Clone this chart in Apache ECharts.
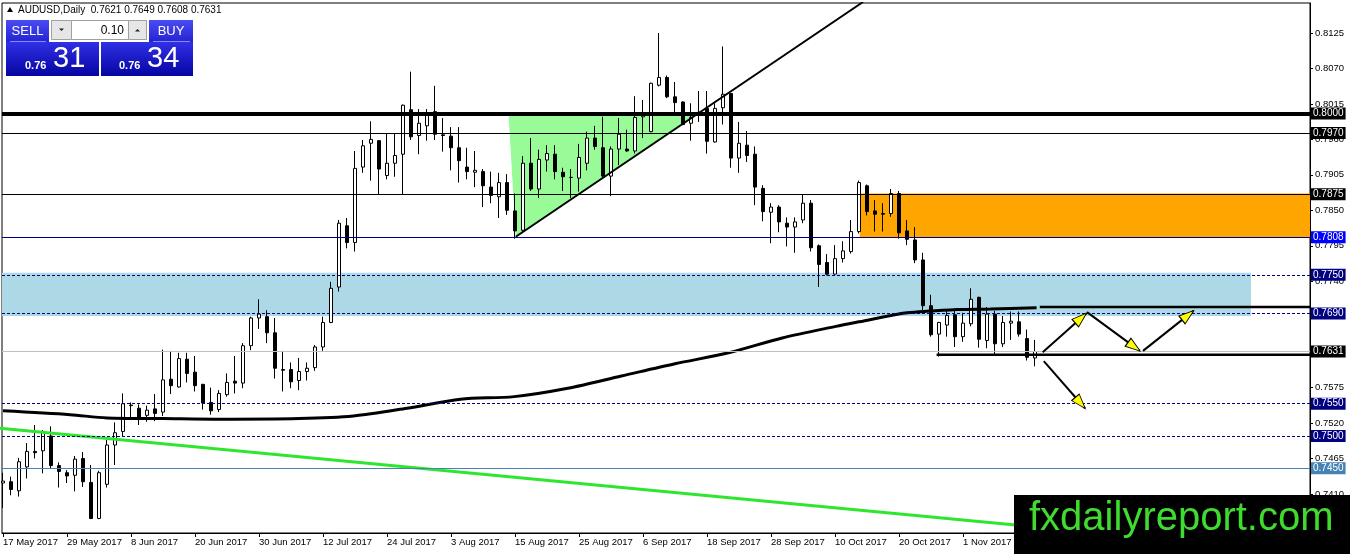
<!DOCTYPE html>
<html>
<head>
<meta charset="utf-8">
<title>AUDUSD Daily</title>
<script src="https://cdn.jsdelivr.net/npm/echarts@6.0.0/dist/echarts.min.js"></script>
<style>
  html, body { margin: 0; padding: 0; background: #fff; }
  #chart { width: 1350px; height: 554px; }
</style>
</head>
<body>
<div id="chart"></div>
<script>
// trading days on the chart, by month (2017)
const mayDays = [17, 18, 19, 22, 23, 24, 25, 26, 29, 30, 31];
const junDays = [1, 2, 5, 6, 7, 8, 9, 12, 13, 14, 15, 16, 19, 20, 21, 22, 23, 26, 27, 28, 29, 30];
const julDays = [3, 4, 5, 6, 7, 10, 11, 12, 13, 14, 17, 18, 19, 20, 21, 24, 25, 26, 27, 28, 31];
const augDays = [1, 2, 3, 4, 7, 8, 9, 10, 11, 14, 15, 16, 17, 18, 21, 22, 23, 24, 25, 28, 29, 30, 31];
const sepDays = [1, 4, 5, 6, 7, 8, 11, 12, 13, 14, 15, 18, 19, 20, 21, 22, 25, 26, 27, 28, 29];
const octDays = [2, 3, 4, 5, 6, 9, 10, 11, 12, 13, 16, 17, 18, 19, 20, 23, 24, 25, 26, 27, 30, 31];
const novDays = [1, 2, 3, 6, 7, 8, 9, 10, 13, 14];

// daily candles
const open = [
  0.7427, 0.7429, 0.7415, 0.7452, 0.7476, 0.7477, 0.7500, 0.7454, 0.7443, 0.7439,
  0.7465, 0.7428, 0.7372, 0.7425, 0.7486, 0.7507, 0.7547, 0.7543, 0.7532, 0.7542,
  0.7537, 0.7588, 0.7576, 0.7619, 0.7599, 0.7580, 0.7552, 0.7541, 0.7564, 0.7585,
  0.7582, 0.7640, 0.7683, 0.7685, 0.7660, 0.7603, 0.7603, 0.7586, 0.7600, 0.7606,
  0.7638, 0.7676, 0.7731, 0.7826, 0.7800, 0.7917, 0.7954, 0.7958, 0.7904, 0.7923,
  0.7937, 0.8006, 0.7966, 0.7981, 0.8003, 0.7967, 0.7965, 0.7947, 0.7917, 0.7909,
  0.7910, 0.7886, 0.7871, 0.7893, 0.7849, 0.7819, 0.7923, 0.7883, 0.7928, 0.7937,
  0.7909, 0.7901, 0.7900, 0.7923, 0.7962, 0.7947, 0.7903, 0.7945, 0.7945, 0.7942,
  0.7995, 0.7972, 0.8044, 0.8056, 0.8026, 0.8018, 0.7985, 0.8000, 0.8008, 0.7956,
  0.8009, 0.8031, 0.7931, 0.7951, 0.7937, 0.7884, 0.7847, 0.7855, 0.7830, 0.7824,
  0.7835, 0.7861, 0.7795, 0.7769, 0.7751, 0.7775, 0.7786, 0.7817, 0.7888, 0.7849,
  0.7845, 0.7845, 0.7876, 0.7818, 0.7804, 0.7773, 0.7702, 0.7658, 0.7672, 0.7688,
  0.7654, 0.7674, 0.7715, 0.7648, 0.7689, 0.7643, 0.7675, 0.7677, 0.7651, 0.7621
];
const close = [
  0.7430, 0.7417, 0.7460, 0.7476, 0.7474, 0.7507, 0.7454, 0.7445, 0.7438, 0.7464,
  0.7429, 0.7372, 0.7443, 0.7486, 0.7505, 0.7550, 0.7548, 0.7528, 0.7540, 0.7535,
  0.7587, 0.7578, 0.7620, 0.7597, 0.7578, 0.7551, 0.7539, 0.7566, 0.7583, 0.7582,
  0.7640, 0.7683, 0.7689, 0.7660, 0.7605, 0.7602, 0.7584, 0.7600, 0.7605, 0.7638,
  0.7676, 0.7729, 0.7830, 0.7800, 0.7915, 0.7950, 0.7960, 0.7914, 0.7923, 0.7935,
  0.8013, 0.7964, 0.7985, 0.8000, 0.7968, 0.7966, 0.7947, 0.7927, 0.7910, 0.7912,
  0.7888, 0.7873, 0.7893, 0.7850, 0.7818, 0.7923, 0.7883, 0.7929, 0.7938, 0.7910,
  0.7902, 0.7901, 0.7932, 0.7962, 0.7949, 0.7903, 0.7945, 0.7968, 0.7942, 0.7994,
  0.8000, 0.8047, 0.8056, 0.8026, 0.8017, 0.7983, 0.7994, 0.8002, 0.7957, 0.8008,
  0.8030, 0.7931, 0.7954, 0.7935, 0.7886, 0.7848, 0.7855, 0.7832, 0.7824, 0.7832,
  0.7861, 0.7792, 0.7766, 0.7751, 0.7775, 0.7787, 0.7817, 0.7893, 0.7848, 0.7844,
  0.7844, 0.7876, 0.7815, 0.7805, 0.7773, 0.7702, 0.7657, 0.7676, 0.7687, 0.7654,
  0.7675, 0.7712, 0.7650, 0.7689, 0.7643, 0.7676, 0.7678, 0.7658, 0.7622, 0.7631
];
const low = [
  0.7388, 0.7408, 0.7406, 0.7434, 0.7465, 0.7442, 0.7450, 0.7420, 0.7427, 0.7414,
  0.7421, 0.7371, 0.7371, 0.7420, 0.7455, 0.7499, 0.7525, 0.7517, 0.7522, 0.7523,
  0.7531, 0.7565, 0.7575, 0.7583, 0.7569, 0.7541, 0.7533, 0.7537, 0.7561, 0.7566,
  0.7574, 0.7633, 0.7666, 0.7644, 0.7589, 0.7569, 0.7574, 0.7571, 0.7586, 0.7601,
  0.7632, 0.7675, 0.7724, 0.7791, 0.7786, 0.7908, 0.7896, 0.7875, 0.7898, 0.7902,
  0.7875, 0.7959, 0.7937, 0.7958, 0.7959, 0.7941, 0.7912, 0.7893, 0.7898, 0.7886,
  0.7855, 0.7861, 0.7838, 0.7843, 0.7806, 0.7817, 0.7880, 0.7869, 0.7910, 0.7898,
  0.7880, 0.7869, 0.7879, 0.7912, 0.7944, 0.7900, 0.7872, 0.7920, 0.7941, 0.7938,
  0.7962, 0.7971, 0.8042, 0.8024, 0.7999, 0.7982, 0.7958, 0.7987, 0.7938, 0.7955,
  0.7983, 0.7916, 0.7908, 0.7925, 0.7858, 0.7833, 0.7799, 0.7816, 0.7794, 0.7784,
  0.7830, 0.7786, 0.7731, 0.7749, 0.7750, 0.7769, 0.7783, 0.7814, 0.7842, 0.7817,
  0.7817, 0.7840, 0.7806, 0.7796, 0.7768, 0.7695, 0.7654, 0.7623, 0.7654, 0.7638,
  0.7646, 0.7670, 0.7637, 0.7636, 0.7625, 0.7638, 0.7649, 0.7654, 0.7617, 0.7608
];
const high = [
  0.7443, 0.7437, 0.7466, 0.7489, 0.7517, 0.7509, 0.7515, 0.7459, 0.7447, 0.7469,
  0.7475, 0.7455, 0.7446, 0.7494, 0.7521, 0.7566, 0.7552, 0.7549, 0.7547, 0.7565,
  0.7634, 0.7632, 0.7629, 0.7629, 0.7624, 0.7581, 0.7575, 0.7571, 0.7597, 0.7624,
  0.7644, 0.7685, 0.7712, 0.7695, 0.7683, 0.7632, 0.7614, 0.7621, 0.7614, 0.7641,
  0.7685, 0.7739, 0.7835, 0.7838, 0.7942, 0.7959, 0.7988, 0.7959, 0.7969, 0.7969,
  0.8014, 0.8065, 0.8007, 0.8007, 0.8043, 0.7993, 0.7979, 0.7979, 0.7947, 0.7942,
  0.7914, 0.7910, 0.7908, 0.7906, 0.7876, 0.7934, 0.7962, 0.7944, 0.7951, 0.7951,
  0.7916, 0.7914, 0.7953, 0.7972, 0.7981, 0.7995, 0.7949, 0.7993, 0.7975, 0.8027,
  0.8021, 0.8048, 0.8125, 0.8059, 0.8049, 0.8019, 0.8016, 0.8035, 0.8035, 0.8016,
  0.8104, 0.8032, 0.7987, 0.7973, 0.7949, 0.7889, 0.7861, 0.7858, 0.7839, 0.7839,
  0.7874, 0.7866, 0.7797, 0.7782, 0.7796, 0.7802, 0.7835, 0.7896, 0.7890, 0.7866,
  0.7861, 0.7883, 0.7880, 0.7835, 0.7824, 0.7784, 0.7719, 0.7677, 0.7694, 0.7695,
  0.7691, 0.7729, 0.7716, 0.7700, 0.7694, 0.7686, 0.7693, 0.7693, 0.7665, 0.7649
];

// moving average (bar index, price)
const maBars = [0, 8.4, 13, 20, 27, 37, 43.8, 50.5, 57.2, 63.9, 70.6, 77.3, 84, 90.7, 97.4, 104.1, 107, 113, 119.2, 123.4, 129.2];
const maVals = [0.7539, 0.7533, 0.7528, 0.7527, 0.7526, 0.7527, 0.7531, 0.7543, 0.7557, 0.7561, 0.7574,
                0.7593, 0.7612, 0.7629, 0.7652, 0.7670, 0.7677, 0.7691, 0.7696, 0.7697, 0.7699];

// horizontal price levels
const levels = [0.8000, 0.7970, 0.7875, 0.7808, 0.7750, 0.7690, 0.7631, 0.7550, 0.7500, 0.7450];

// drawn trend lines: green, rising diagonal, support, 0.7700
const trendX1 = [-0.375, 64.1, 116.7, 129.6];
const trendY1 = [0.7512, 0.7809, 0.7626, 0.7700];
const trendX2 = [140, 107.5, 163.4, 163.4];
const trendY2 = [0.7346, 0.8173, 0.7626, 0.7700];

// zones (light blue, orange)
const zoneX1 = [-0.125, 107.1];
const zoneX2 = [156, 163.375];
const zoneHi = [0.7753, 0.7876];
const zoneLo = [0.7686, 0.7807];

// green triangle
const triX = [63.2, 64.1, 86.6];
const triY = [0.7998, 0.7809, 0.7998];

// scenario arrows
const arrowFromX = [129.96, 135.5, 142.5, 130.1];
const arrowFromY = [0.7630, 0.7692, 0.7632, 0.7616];
const arrowToX = [135.4, 142.1, 148.8, 135.25];
const arrowToY = [0.7690, 0.7632, 0.7694, 0.7543];

const dateTicks = [0, 8, 16, 24, 32, 40, 48, 56, 64, 72, 80, 88, 96, 104, 112, 120];
const priceTicks = [0.7410, 0.7465, 0.7520, 0.7575, 0.7630, 0.7685, 0.7740, 0.7795, 0.7850, 0.7905, 0.7960, 0.8015, 0.8070, 0.8125];

const bidPrice = 0.7631;
const askPrice = 0.7634;

const FONT = 'Liberation Sans';
const last = open.length - 1;

const dateLabels = [];
[['May', mayDays], ['Jun', junDays], ['Jul', julDays], ['Aug', augDays],
 ['Sep', sepDays], ['Oct', octDays], ['Nov', novDays]].forEach(([m, days]) => {
  days.forEach(d => dateLabels.push(d + ' ' + m + ' 2017'));
});

// line look for each level
const levelColor = ['#000', '#000', '#000', '#000080', '#000080', '#000080', '#c0c0c0', '#000080', '#000080', '#4682b4'];
const levelWidth = [4, 1, 1, 1, 1, 1, 1, 1, 1, 1];
const levelDashed = [false, false, false, false, true, true, false, true, true, false];
const levelBg = ['#000', '#000', '#000', '#0000ff', '#000080', '#000080', '#000', '#000080', '#000080', '#4682b4'];

const trendColor = ['#2ee62e', '#000', '#000', '#000'];
const trendWidth = [3, 2, 2.5, 2.5];

const zoneColor = ['#add8e6', '#ffa500'];

const chart = echarts.init(document.getElementById('chart'));

const series = [];

series.push({
  type: 'custom',
  name: 'triangle',
  z: 1,
  silent: true,
  data: [[triX[0], triY[0]]],
  renderItem: function (params, api) {
    const pts = triX.map((x, k) => api.coord([x, triY[k]]));
    return { type: 'polygon', shape: { points: pts }, style: { fill: '#98fb98' } };
  }
});

series.push({
  type: 'line',
  name: 'zones',
  z: 1,
  silent: true,
  data: [],
  markArea: {
    silent: true,
    data: zoneX1.map((x, k) => [
      { coord: [x, zoneHi[k]], itemStyle: { color: zoneColor[k], opacity: 1 } },
      { coord: [zoneX2[k], zoneLo[k]] }
    ])
  }
});

series.push({
  type: 'candlestick',
  name: 'AUDUSD',
  z: 2,
  barWidth: 4,
  data: open.map((o, i) => [i, o, close[i], low[i], high[i]]),
  itemStyle: {
    color: '#fff', color0: '#000',
    borderColor: '#000', borderColor0: '#000', borderColorDoji: '#000',
    borderWidth: 1
  }
});

series.push({
  type: 'line',
  name: 'MA',
  z: 3,
  silent: true,
  symbol: 'none',
  smooth: 0.3,
  data: maBars.map((x, i) => [x, maVals[i]]),
  lineStyle: { color: '#000', width: 3 }
});

trendX1.forEach((x, k) => {
  series.push({
    type: 'line',
    z: 3,
    silent: true,
    symbol: 'none',
    data: [[x, trendY1[k]], [trendX2[k], trendY2[k]]],
    lineStyle: { color: trendColor[k], width: trendWidth[k] }
  });
});

series.push({
  type: 'line',
  name: 'levels',
  z: 4,
  silent: true,
  data: [],
  markLine: {
    silent: true,
    precision: 4,
    symbol: ['none', 'none'],
    data: levels.map((v, k) => ({
      yAxis: v,
      lineStyle: { color: levelColor[k], width: levelWidth[k], type: levelDashed[k] ? [3, 2] : 'solid' },
      label: {
        show: true, position: 'end', distance: 1,
        formatter: v.toFixed(4),
        color: '#fff', backgroundColor: levelBg[k],
        padding: [1, 2, 0, 2], fontSize: 10, lineHeight: 11, fontFamily: FONT
      }
    }))
  }
});

arrowFromX.forEach((x, k) => {
  series.push({
    type: 'line',
    z: 5,
    silent: true,
    symbol: 'none',
    data: [[x, arrowFromY[k]], [arrowToX[k], arrowToY[k]]],
    lineStyle: { color: '#000', width: 2 }
  });
});

series.push({
  type: 'scatter',
  id: 'heads',
  z: 6,
  silent: true,
  symbol: 'triangle',
  symbolSize: [10, 15],
  data: [],
  itemStyle: { color: '#ffff00', borderColor: '#000', borderWidth: 1, opacity: 1 }
});

const blueBtn = { type: 'linear', x: 0, y: 0, x2: 0, y2: 1, colorStops: [{ offset: 0, color: '#4c4cf4' }, { offset: 1, color: '#2323d2' }] };
const bluePrice = { type: 'linear', x: 0, y: 0, x2: 0, y2: 1, colorStops: [{ offset: 0, color: '#3030e6' }, { offset: 1, color: '#0505a2' }] };

function txt(x, y, text, font, fill, align) {
  return { type: 'text', z: 100, x: x, y: y, style: { text: text, font: font, fill: fill, align: align || 'left', verticalAlign: 'middle' } };
}

const header = 'AUDUSD,Daily  ' + [open[last], high[last], low[last], close[last]].map(v => v.toFixed(4)).join(' ');
const bidStr = bidPrice.toFixed(4), askStr = askPrice.toFixed(4);

const graphic = [
  { type: 'polygon', z: 100, shape: { points: [[7, 12], [13, 12], [10, 7]] }, style: { fill: '#000' } },
  txt(18, 10.5, header, '10px ' + FONT, '#000'),

  { type: 'rect', z: 100, shape: { x: 6, y: 20, width: 43, height: 22 }, style: { fill: blueBtn } },
  { type: 'rect', z: 100, shape: { x: 149, y: 20, width: 44, height: 22 }, style: { fill: blueBtn } },
  { type: 'rect', z: 100, shape: { x: 51.5, y: 20.5, width: 20, height: 19 }, style: { fill: '#e6e6e6', stroke: '#a0a0a0' } },
  { type: 'rect', z: 100, shape: { x: 71.5, y: 20.5, width: 57, height: 19 }, style: { fill: '#fff', stroke: '#a0a0a0' } },
  { type: 'rect', z: 100, shape: { x: 128.5, y: 20.5, width: 18, height: 19 }, style: { fill: '#e6e6e6', stroke: '#a0a0a0' } },
  { type: 'polygon', z: 101, shape: { points: [[59, 28.5], [64, 28.5], [61.5, 31]] }, style: { fill: '#222' } },
  { type: 'polygon', z: 101, shape: { points: [[135, 31.5], [140, 31.5], [137.5, 29]] }, style: { fill: '#222' } },
  txt(124, 30.5, '0.10', '12px ' + FONT, '#000', 'right'),
  txt(27.5, 31, 'SELL', '13px ' + FONT, '#fff', 'center'),
  txt(171, 31, 'BUY', '13px ' + FONT, '#fff', 'center'),
  { type: 'line', z: 101, shape: { x1: 10, y1: 41.5, x2: 46, y2: 41.5 }, style: { stroke: '#8888ff', lineWidth: 1 } },
  { type: 'line', z: 101, shape: { x1: 153, y1: 41.5, x2: 190, y2: 41.5 }, style: { stroke: '#8888ff', lineWidth: 1 } },

  { type: 'rect', z: 100, shape: { x: 6, y: 42, width: 93, height: 34 }, style: { fill: bluePrice } },
  { type: 'rect', z: 100, shape: { x: 101, y: 42, width: 92, height: 34 }, style: { fill: bluePrice } },
  txt(25, 65.5, bidStr.slice(0, 4), 'bold 11px ' + FONT, '#fff'),
  txt(53, 58.5, bidStr.slice(4), '29px ' + FONT, '#fff'),
  txt(119, 65.5, askStr.slice(0, 4), 'bold 11px ' + FONT, '#fff'),
  txt(147, 58.5, askStr.slice(4), '29px ' + FONT, '#fff'),

  { type: 'rect', z: 100, shape: { x: 1014, y: 495, width: 336, height: 59 }, style: { fill: '#000' } },
  txt(1029, 519, 'fxdailyreport.com', '40px ' + FONT, '#3fdc2f')
];

const option = {
  animation: false,
  backgroundColor: '#fff',
  textStyle: { fontFamily: FONT },
  grid: {
    left: 2, right: 40, top: 3, bottom: 21,
    show: true, borderColor: '#000', borderWidth: 1, backgroundColor: '#fff',
    containLabel: false, outerBoundsMode: 'none'
  },
  xAxis: {
    type: 'value',
    min: -0.125,
    max: 163.375,
    splitLine: { show: false },
    axisLine: { show: true, onZero: false, lineStyle: { color: '#000' } },
    axisTick: { show: true, length: 4, customValues: dateTicks, lineStyle: { color: '#000' } },
    axisLabel: {
      customValues: dateTicks,
      formatter: v => dateLabels[Math.round(v)] || '',
      align: 'left', margin: 4, color: '#000', fontSize: 9.5, fontFamily: FONT
    }
  },
  yAxis: {
    type: 'value',
    position: 'right',
    min: 0.73495,
    max: 0.81715,
    splitLine: { show: false },
    axisLine: { show: true, onZero: false, lineStyle: { color: '#000' } },
    axisTick: { show: true, length: 3, customValues: priceTicks, lineStyle: { color: '#000' } },
    axisLabel: {
      customValues: priceTicks,
      formatter: v => v.toFixed(4),
      margin: 5, color: '#000', fontSize: 9.5, fontFamily: FONT
    }
  },
  graphic: graphic,
  series: series
};

chart.setOption(option);

// arrowheads: point each triangle along its arrow in screen space
const heads = arrowToX.map((x, k) => {
  const a = chart.convertToPixel({ gridIndex: 0 }, [arrowFromX[k], arrowFromY[k]]);
  const b = chart.convertToPixel({ gridIndex: 0 }, [x, arrowToY[k]]);
  const dx = b[0] - a[0], dy = b[1] - a[1];
  const len = Math.hypot(dx, dy);
  const c = chart.convertFromPixel({ gridIndex: 0 }, [b[0] - dx / len * 7, b[1] - dy / len * 7]);
  return { value: c, symbolRotate: Math.atan2(-dx, -dy) * 180 / Math.PI };
});
chart.setOption({ series: [{ id: 'heads', data: heads }] });
</script>
</body>
</html>
